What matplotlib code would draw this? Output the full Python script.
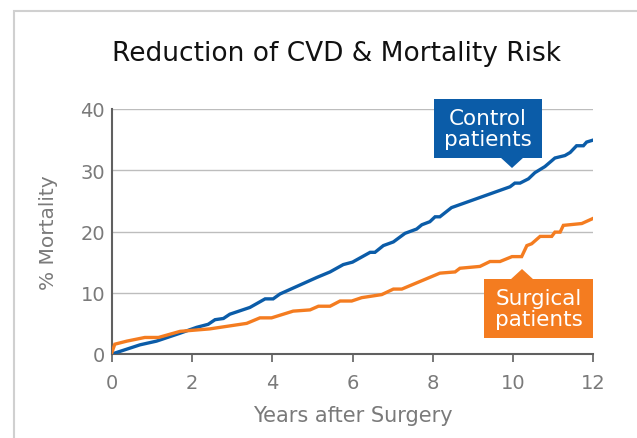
import matplotlib
matplotlib.use("Agg")
import matplotlib.pyplot as plt
from matplotlib.patches import Rectangle, Polygon

# ---- data ----
control_years = [0.0, 0.7, 1.11, 1.70, 2.11, 2.40, 2.57, 2.78, 2.94, 3.44, 3.82, 4.02, 4.19,
                 5.11, 5.44, 5.77, 6.0, 6.44, 6.56, 6.77, 7.02, 7.31, 7.60, 7.73, 7.93, 8.06,
                 8.18, 8.47, 9.93, 10.05, 10.18, 10.39, 10.55, 10.80, 11.05, 11.30, 11.43,
                 11.59, 11.76, 11.84, 11.99]
control_mort = [0.0, 1.5, 2.1, 3.4, 4.35, 4.85, 5.6, 5.8, 6.5, 7.6, 9.0, 9.0, 9.8,
                12.5, 13.4, 14.6, 15.0, 16.6, 16.6, 17.7, 18.3, 19.7, 20.4, 21.1, 21.6, 22.4,
                22.4, 23.9, 27.3, 27.9, 27.9, 28.6, 29.6, 30.6, 32.0, 32.4, 32.9,
                34.0, 34.0, 34.6, 34.9]

surgical_years = [0.0, 0.07, 0.37, 0.82, 1.16, 1.70, 2.44, 3.36, 3.69, 3.98, 4.52, 4.94, 5.15,
                  5.44, 5.69, 5.98, 6.23, 6.73, 7.02, 7.23, 8.18, 8.56, 8.68, 9.18, 9.43,
                  9.68, 9.98, 10.22, 10.35, 10.47, 10.68, 10.97, 11.05, 11.18, 11.26, 11.72, 11.99]
surgical_mort = [0.3, 1.6, 2.1, 2.7, 2.7, 3.7, 4.1, 5.0, 5.9, 5.9, 7.0, 7.2, 7.8,
                 7.8, 8.65, 8.65, 9.2, 9.7, 10.6, 10.6, 13.2, 13.4, 14.0, 14.3, 15.1,
                 15.1, 15.9, 15.9, 17.7, 18.0, 19.2, 19.2, 19.9, 19.9, 21.0, 21.3, 22.1]

x_ticks = [0, 2, 4, 6, 8, 10, 12]
y_ticks = [0, 10, 20, 30, 40]

title = "Reduction of CVD & Mortality Risk"
x_label = "Years after Surgery"
y_label = "% Mortality"
control_label = "Control\npatients"
surgical_label = "Surgical\npatients"

BLUE = "#0B5CA8"
ORANGE = "#F47C20"
GRAY_TXT = "#7a7a7a"
FONT = "DejaVu Sans"

plt.rcParams["font.family"] = FONT

fig = plt.figure(figsize=(6.37, 4.39), dpi=100)
fig.patches.append(Rectangle((14 / 637, -0.1), 1.2, 1 - 12 / 439 + 0.1, transform=fig.transFigure,
                             fill=False, edgecolor="#d0d0d0", lw=1.5))

ax = fig.add_axes([112 / 637, 1 - 355 / 439, (593 - 112) / 637, (355 - 110) / 439])
ax.set_xlim(0, 12)
ax.set_ylim(0, 40)

for yv in y_ticks[1:]:
    ax.axhline(yv, color="#bdbdbd", lw=1.0, zorder=1)

ax.plot(control_years, control_mort, color=BLUE, lw=2.4, zorder=3, solid_joinstyle="miter")
ax.plot(surgical_years, surgical_mort, color=ORANGE, lw=2.4, zorder=3, solid_joinstyle="miter")

for s in ["top", "right"]:
    ax.spines[s].set_visible(False)
for s in ["left", "bottom"]:
    ax.spines[s].set_color("#606060")
    ax.spines[s].set_linewidth(1.5)

ax.set_xticks(x_ticks)
ax.set_yticks(y_ticks)
ax.tick_params(axis="x", direction="out", length=6, width=1.2, color="#606060",
               labelsize=14, labelcolor=GRAY_TXT, pad=8)
ax.tick_params(axis="y", length=0, labelsize=14, labelcolor=GRAY_TXT, pad=5)

ax.set_xlabel(x_label, fontsize=15, color=GRAY_TXT, labelpad=9)
ax.set_ylabel(y_label, fontsize=14.5, color=GRAY_TXT, labelpad=16)

fig.text(336 / 637, 1 - 54 / 439, title, ha="center", va="center", fontsize=19,
         color="#111111")

# annotation boxes (pixel -> data helpers)
def px2d(px, py):
    return ((px - 112) / (481 / 12), (355 - py) / (245 / 40))

def box(x0p, y0p, x1p, y1p, color, tri, text):
    (xa, ya) = px2d(x0p, y1p)
    (xb, yb) = px2d(x1p, y0p)
    ax.add_patch(Rectangle((xa, ya), xb - xa, yb - ya, facecolor=color, edgecolor="none",
                           clip_on=False, zorder=5))
    ax.add_patch(Polygon([px2d(*p) for p in tri], closed=True, facecolor=color,
                         edgecolor="none", clip_on=False, zorder=5))
    ax.text((xa + xb) / 2, (ya + yb) / 2, text, ha="center", va="center", color="white",
            fontsize=15.5, linespacing=1.08, zorder=6)

box(434, 100, 542, 159, BLUE, [(500, 158), (524, 158), (512, 169)], control_label)
box(484, 280, 593, 339, ORANGE, [(510, 281), (534, 281), (522, 270)], surgical_label)

fig.savefig("out.png", dpi=100)
